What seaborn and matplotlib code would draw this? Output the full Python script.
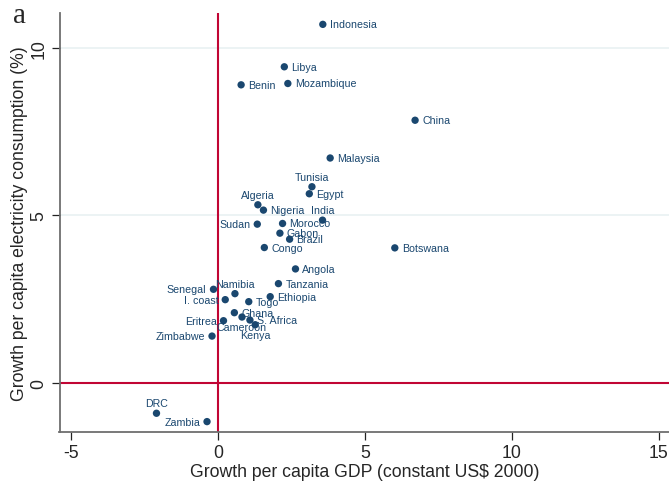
import matplotlib
matplotlib.use("Agg")
import matplotlib.pyplot as plt
import seaborn as sns
import pandas as pd

# Average annual growth rates by country
countries = [
    "Indonesia", "Libya", "Benin", "Mozambique", "China", "Malaysia",
    "Tunisia", "Egypt", "Algeria", "Nigeria", "India", "Sudan", "Morocco",
    "Gabon", "Brazil", "Congo", "Botswana", "Angola", "Tanzania", "Senegal",
    "Namibia", "I. coast", "Togo", "Ethiopia", "Ghana", "Cameroon",
    "S. Africa", "Kenya", "Eritrea", "Zimbabwe", "DRC", "Zambia",
]
gdp_growth = [
    3.57, 2.26, 0.79, 2.38, 6.71, 3.82,
    3.20, 3.11, 1.36, 1.55, 3.56, 1.34, 2.20,
    2.11, 2.44, 1.58, 6.02, 2.64, 2.06, -0.15,
    0.58, 0.25, 1.05, 1.78, 0.56, 0.82,
    1.09, 1.27, 0.19, -0.20, -2.09, -0.37,
]
elec_growth = [
    10.72, 9.45, 8.91, 8.95, 7.85, 6.72,
    5.86, 5.65, 5.32, 5.16, 4.86, 4.74, 4.76,
    4.47, 4.29, 4.04, 4.03, 3.40, 2.96, 2.79,
    2.66, 2.48, 2.42, 2.57, 2.09, 1.96,
    1.87, 1.73, 1.85, 1.39, -0.92, -1.17,
]
x_ticks = [-5, 0, 5, 10, 15]
y_ticks = [0, 5, 10]

# Marker-label placement (clock position); everything else sits at 3 o'clock
label_clock = {
    "Tunisia": 12, "Algeria": 12, "India": 12, "Namibia": 12, "DRC": 12,
    "Sudan": 9, "Senegal": 9, "I. coast": 9, "Eritrea": 9,
    "Zimbabwe": 9, "Zambia": 9,
    "Cameroon": 6, "Kenya": 6,
}

df = pd.DataFrame({"country": countries, "gdp": gdp_growth, "elec": elec_growth})

sns.set_style("white")
plt.rcParams["font.family"] = ["Liberation Sans", "DejaVu Sans"]

NAVY = "#1a476f"
RED = "#c10534"

fig = plt.figure(figsize=(6.69, 4.85), dpi=100)
ax = fig.add_axes([59.5 / 669, 1 - 433.3 / 485, 1 - 59.5 / 669, (433.3 - 14) / 485])

ax.set_xlim(-5.39, 15.35)
ax.set_ylim(-1.49, 11.06)

for yv in [5, 10]:
    ax.axhline(yv, color="#eaf2f3", lw=1.3, zorder=0)
ax.axhline(0, color=RED, lw=1.5, zorder=1)
ax.axvline(0, color=RED, lw=1.5, zorder=1)

sns.scatterplot(data=df, x="gdp", y="elec", ax=ax, color=NAVY, s=28,
                edgecolor="none", zorder=3, legend=False)

offsets = {3: ((5, 0), "left", "center"), 9: ((-5, 0), "right", "center"),
           12: ((0, 3.5), "center", "bottom"), 6: ((0, -3.5), "center", "top")}
for name, gx, ey in zip(countries, gdp_growth, elec_growth):
    (dx, dy), ha, va = offsets[label_clock.get(name, 3)]
    ax.annotate(name, (gx, ey), xytext=(dx, dy), textcoords="offset points",
                ha=ha, va=va, fontsize=7.7, color=NAVY, zorder=4)

ax.set_xticks(x_ticks)
ax.set_yticks(y_ticks)
ax.set_xticklabels([f"{t}" for t in x_ticks])
ax.set_yticklabels([f"{t}" for t in y_ticks], rotation=90, va="center")
ax.tick_params(axis="both", direction="out", length=5.5, width=0.9,
               color="#222222", labelsize=12.7, pad=3, left=True, bottom=True)

for side in ["top", "right"]:
    ax.spines[side].set_visible(False)
for side in ["left", "bottom"]:
    ax.spines[side].set_color("#6e6e6e")
    ax.spines[side].set_linewidth(1.3)

ax.set_xlabel("Growth per capita GDP (constant US$ 2000)", fontsize=12.7, labelpad=1.5)
ax.set_ylabel("Growth per capita electricity consumption (%)", fontsize=12.7, labelpad=2)

fig.text(13 / 669, 1 - 23 / 485, "a", family=["Liberation Serif", "DejaVu Serif"],
         fontsize=21, ha="left", va="baseline")

fig.savefig("out.png", dpi=100)
